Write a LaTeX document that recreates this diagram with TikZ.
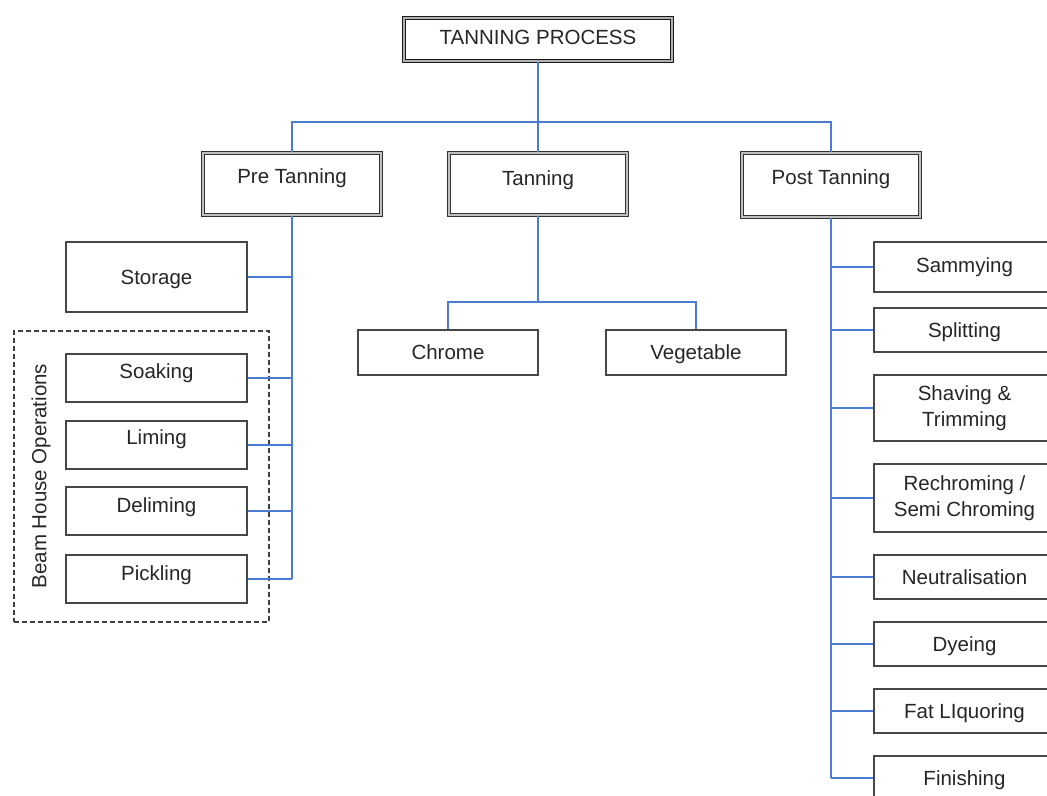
\documentclass[tikz,border=0pt]{standalone}
\usepackage{fontspec}
\setmainfont{Liberation Sans}
\begin{document}
\begin{tikzpicture}[x=1bp,y=-1bp,
  every node/.style={font=\fontsize{20.5bp}{26bp}\selectfont, text=black!85},
  box/.style={draw=black!72, line width=1.8bp, fill=white, inner sep=0pt, text height=16bp, text depth=1.4bp},
  twoline/.style={draw=black!72, line width=1.8bp, fill=white, inner sep=0pt, align=center},
  dbox/.style={box, draw=black!80, double=gray!50, line width=1.4bp, double distance=1.4bp},
  rbox/.style={box, draw=black!90, double=gray!60, line width=1.6bp, double distance=1.2bp},
  up/.style={text depth=#1},
  conn/.style={draw={rgb,255:red,74;green,124;blue,212}, line width=2bp},
  group/.style={draw=black!75, line width=1.5bp, dash pattern=on 5bp off 3bp}
]
\useasboundingbox (0,0) rectangle (1047,796);
\clip (0,0) rectangle (1047,796);

% root
\node[rbox, up=5.4bp, minimum width=268bp, minimum height=43bp] (root) at (538,39.5) {TANNING PROCESS};

% level 1
\node[dbox, up=17.4bp, minimum width=178bp, minimum height=62bp] (pre) at (292,184) {Pre Tanning};
\node[dbox, up=13.4bp, minimum width=178bp, minimum height=62bp] (tan) at (538,184) {Tanning};
\node[dbox, up=17.4bp, minimum width=178bp, minimum height=64bp] (post) at (831,185) {Post Tanning};

% pre tanning children
\node[box, minimum width=181bp, minimum height=70bp] (storage) at (156.5,277) {Storage};
\node[box, up=15.4bp, minimum width=181bp, minimum height=48bp] (soaking) at (156.5,378) {Soaking};
\node[box, up=17.4bp, minimum width=181bp, minimum height=48bp] (liming) at (156.5,445) {Liming};
\node[box, up=13.4bp, minimum width=181bp, minimum height=48bp] (deliming) at (156.5,511) {Deliming};
\node[box, up=13.4bp, minimum width=181bp, minimum height=48bp] (pickling) at (156.5,579) {Pickling};
\node[group, minimum width=255bp, minimum height=291bp, inner sep=0pt] (beam) at (141.5,476.5) {};
\node[rotate=90, inner sep=0pt, text height=14.7bp, text depth=0pt] (beamlabel) at (39,476) {Beam House Operations};

% tanning children
\node[box, minimum width=180bp, minimum height=45bp] (chrome) at (448,352.5) {Chrome};
\node[box, minimum width=180bp, minimum height=45bp] (veg) at (696,352.5) {Vegetable};

% post tanning children
\node[box, up=5.4bp, minimum width=181bp, minimum height=50bp] (sammying) at (964.5,267) {Sammying};
\node[box, minimum width=181bp, minimum height=44bp] (splitting) at (964.5,330) {Splitting};
\node[twoline, minimum width=181bp, minimum height=66bp] (shaving) at (964.5,408) {Shaving \&\\Trimming};
\node[twoline, minimum width=181bp, minimum height=68bp] (rechrom) at (964.5,498) {Rechroming /\\Semi Chroming};
\node[box, minimum width=181bp, minimum height=44bp] (neutral) at (964.5,577) {Neutralisation};
\node[box, minimum width=181bp, minimum height=44bp] (dyeing) at (964.5,644) {Dyeing};
\node[box, minimum width=181bp, minimum height=44bp] (fat) at (964.5,711) {Fat LIquoring};
\node[box, minimum width=181bp, minimum height=44bp] (finishing) at (964.5,778) {Finishing};

% connectors
\coordinate (bus) at (538,122);
\coordinate (tbus) at (538,302);
\draw[conn] (root.south) -- (bus);
\draw[conn] (pre.north) |- (bus) -| (post.north);
\draw[conn] (bus) -- (tan.north);
\draw[conn] (tan.south) -- (tbus);
\draw[conn] (chrome.north) |- (tbus) -| (veg.north);

\draw[conn] (pre.south) -- (pickling.east -| pre.south);
\foreach \n in {storage,soaking,liming,deliming,pickling}
  \draw[conn] (\n.east) -- (\n.east -| pre.south);

\draw[conn] (post.south) -- (finishing.west -| post.south);
\foreach \n in {sammying,splitting,shaving,rechrom,neutral,dyeing,fat,finishing}
  \draw[conn] (\n.west) -- (\n.west -| post.south);
\end{tikzpicture}
\end{document}
